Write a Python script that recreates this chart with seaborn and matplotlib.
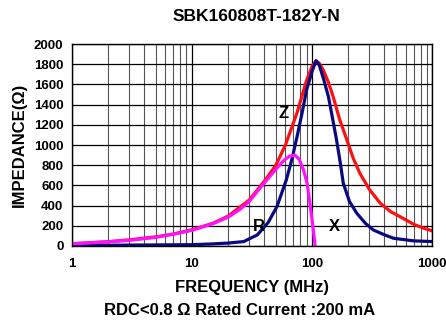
import numpy as np
import pandas as pd
import matplotlib
matplotlib.use("Agg")
import matplotlib.pyplot as plt
import seaborn as sns
from matplotlib.ticker import LogLocator, NullFormatter

# values (frequency in MHz, impedance in ohm)
z_freq = [1, 2, 3, 5, 7, 10, 15, 20, 30, 40, 50, 60, 75, 90, 100, 108, 115, 124, 137, 150, 170, 195, 220, 250, 300, 370, 450, 540, 700, 850, 1000]
z_val = [22, 42, 60, 90, 118, 160, 225, 295, 455, 640, 800, 1000, 1320, 1640, 1780, 1835, 1810, 1743, 1620, 1478, 1250, 1050, 870, 720, 560, 423, 340, 290, 215, 175, 150]

r_freq = [1, 3, 10, 15, 20, 27, 35, 43, 51, 61, 68, 75, 83, 90, 100, 108, 115, 125, 137, 150, 160, 172, 182, 205, 236, 280, 324, 400, 476, 700, 1000]
r_val = [5, 8, 12, 20, 28, 43, 109, 230, 389, 653, 860, 1082, 1330, 1545, 1730, 1835, 1790, 1650, 1478, 1230, 1050, 820, 620, 440, 323, 220, 158, 110, 76, 50, 43]

x_freq = [1, 2, 3, 5, 7, 10, 15, 20, 25, 30, 35, 42, 50, 58, 65, 72, 78, 85, 91, 96, 101, 104, 106]
x_val = [20, 40, 55, 85, 115, 155, 220, 285, 360, 440, 540, 653, 760, 845, 890, 900, 860, 752, 620, 423, 220, 90, 0]

y_ticks = [0, 200, 400, 600, 800, 1000, 1200, 1400, 1600, 1800, 2000]
x_ticks = [1, 10, 100, 1000]

df = pd.concat([
    pd.DataFrame({"freq": z_freq, "imp": z_val, "curve": "Z"}),
    pd.DataFrame({"freq": r_freq, "imp": r_val, "curve": "R"}),
    pd.DataFrame({"freq": x_freq, "imp": x_val, "curve": "X"}),
])

sns.set_style("white")
plt.rcParams['font.family'] = ['Liberation Sans', 'DejaVu Sans']
plt.rcParams['font.weight'] = 'bold'
plt.rcParams['text.color'] = 'black'
plt.rcParams['xtick.color'] = 'black'
plt.rcParams['ytick.color'] = 'black'
plt.rcParams['axes.labelcolor'] = 'black'

fig = plt.figure(figsize=(4.46, 3.27), dpi=100)
ax = fig.add_axes([0.161, 0.248, 0.808, 0.617])

palette = {"Z": "#ff1010", "R": "#0a0a80", "X": "#ff10ff"}
sns.lineplot(data=df, x="freq", y="imp", hue="curve", palette=palette,
             linewidth=2.3, legend=False, ax=ax, sort=False, estimator=None)

ax.set_xscale("log")
ax.set_xlim(1, 1000)
ax.set_ylim(0, 2000)
ax.set_xticks(x_ticks)
ax.set_xticklabels([str(t) for t in x_ticks])
ax.set_yticks(y_ticks)
ax.xaxis.set_minor_locator(LogLocator(base=10, subs=np.arange(2, 10)))
ax.xaxis.set_minor_formatter(NullFormatter())
ax.grid(True, which="major", color="black", linewidth=0.9)
ax.grid(True, which="minor", axis="x", color="#555555", linewidth=0.8)
ax.tick_params(axis="both", which="both", length=0, labelsize=9.5)
ax.tick_params(axis="x", pad=9)
ax.tick_params(axis="y", pad=6)
for lab in ax.get_xticklabels() + ax.get_yticklabels():
    lab.set_fontweight("bold")
for s in ax.spines.values():
    s.set_color("black")
    s.set_linewidth(1.0)

ax.set_ylabel("IMPEDANCE(Ω)", fontsize=12, fontweight="bold", labelpad=5)
ax.set_xlabel("FREQUENCY (MHz)", fontsize=12, fontweight="bold", labelpad=7)
fig.text(0.538, 0.049, "RDC<0.8 Ω Rated Current :200 mA", ha="center", va="center",
         fontsize=12, fontweight="bold")
fig.text(0.574, 0.951, "SBK160808T-182Y-N", ha="center", va="center",
         fontsize=12.5, fontweight="bold")

ax.text(58, 1317, "Z", fontsize=12, fontweight="bold", ha="center", va="center")
ax.text(36, 188, "R", fontsize=12, fontweight="bold", ha="center", va="center")
ax.text(155, 188, "X", fontsize=12, fontweight="bold", ha="center", va="center")

fig.savefig("out.png", dpi=100)
